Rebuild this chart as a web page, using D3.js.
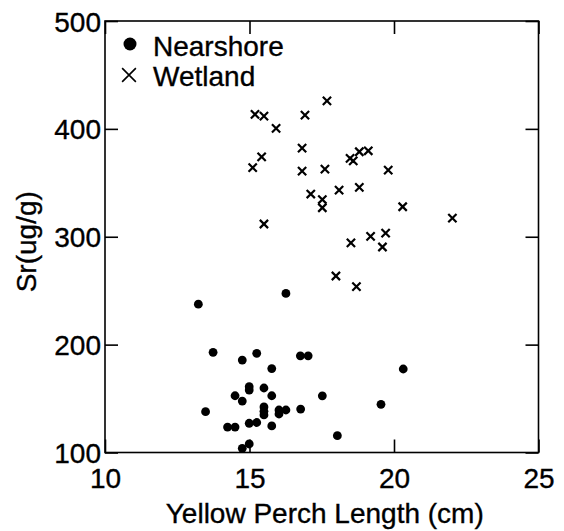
<html>
<head>
<script src="https://d3js.org/d3.v7.min.js"></script>
<style>
  body { margin: 0; background: #fff; }
  svg text { font-family: "Liberation Sans", Arial, sans-serif; fill: #000; stroke: #000; stroke-width: 0.35px; }
  .axis .domain { stroke: none; }
  .axis line { stroke: #000; stroke-width: 1.6px; }
</style>
</head>
<body>
<svg id="chart" width="564" height="531"></svg>
<script>
// values
const nearshoreLength = [13.23, 16.26, 13.74, 14.75, 15.25, 15.77, 16.76, 17.03, 14.99, 14.99, 15.5,
  14.5, 14.75, 15.77, 17.52, 13.48, 15.5, 15.5, 15.5, 16.02, 16.02, 16.26, 16.77, 14.24, 14.5,
  14.99, 15.25, 15.77, 14.75, 14.99, 19.55, 20.32, 18.04];
const nearshoreSr = [237.5, 247.5, 192.9, 185.7, 191.9, 177.8, 189.6, 189.6, 161, 157.9, 159.8,
  152.6, 147.7, 152.6, 152.5, 137.8, 142.2, 138.2, 134.8, 139.4, 135.7, 139.4, 140.3, 123.6, 123.6,
  127.1, 127.8, 124.6, 103.9, 107.9, 144.7, 177.4, 115.6];

const wetlandLength = [15.19, 15.5, 15.92, 16.92, 17.68, 16.82, 15.42, 15.11, 16.82, 17.61, 18.48,
  18.59, 18.8, 19.11, 19.8, 17.12, 17.52, 17.52, 18.1, 18.8, 20.3, 22.02, 18.51, 19.19, 19.71,
  19.6, 17.99, 18.7, 15.5];
const wetlandSr = [413.4, 411.9, 400.5, 412.8, 426, 382.2, 374.1, 364, 360.9, 362.7, 372.7,
  370.4, 378.8, 379.7, 361.8, 339.6, 334.5, 326.9, 343.3, 345.8, 327.8, 317.3, 294.4, 300.4, 303.4,
  290.5, 263.6, 253.7, 311.8];

const xTicks = [10, 15, 20, 25];
const yTicks = [100, 200, 300, 400, 500];
const seriesNames = ["Nearshore", "Wetland"];

const svg = d3.select("#chart");
const plotLeft = 105, plotRight = 538.5, plotTop = 21, plotBottom = 452.5;

const x = d3.scaleLinear().domain([10, 25]).range([plotLeft, plotRight]);
const y = d3.scaleLinear().domain([100, 500]).range([plotBottom, plotTop]);

// bottom + left axes with labels, ticks pointing inward
svg.append("g").attr("class", "axis")
  .attr("transform", `translate(0,${plotBottom})`)
  .call(d3.axisBottom(x).tickValues(xTicks).tickSize(-13).tickSizeOuter(0).tickPadding(15.5))
  .selectAll("text").style("font-size", "28px");

svg.append("g").attr("class", "axis")
  .attr("transform", `translate(${plotLeft},0)`)
  .call(d3.axisLeft(y).tickValues(yTicks).tickSize(-13).tickSizeOuter(0).tickPadding(4))
  .selectAll("text").style("font-size", "28px").attr("dy", "0.36em");

// top + right mirrored ticks
svg.append("g").attr("class", "axis")
  .attr("transform", `translate(0,${plotTop})`)
  .call(d3.axisTop(x).tickValues(xTicks).tickSize(-13).tickSizeOuter(0).tickFormat(""));

svg.append("g").attr("class", "axis")
  .attr("transform", `translate(${plotRight},0)`)
  .call(d3.axisRight(y).tickValues(yTicks).tickSize(-13).tickSizeOuter(0).tickFormat(""));

// frame
svg.append("rect")
  .attr("x", plotLeft).attr("y", plotTop)
  .attr("width", plotRight - plotLeft).attr("height", plotBottom - plotTop)
  .attr("fill", "none").attr("stroke", "#000").attr("stroke-width", 1.6);

// points
const nearshore = nearshoreLength.map((v, i) => ({ len: v, sr: nearshoreSr[i] }));
const wetland = wetlandLength.map((v, i) => ({ len: v, sr: wetlandSr[i] }));

svg.selectAll("circle.near").data(nearshore)
  .join("circle").attr("class", "near")
  .attr("cx", d => x(d.len))
  .attr("cy", d => y(d.sr))
  .attr("r", 4.4)
  .attr("fill", "#000");

const cross = d3.symbol().type(d3.symbolTimes).size(46);
svg.selectAll("path.wet").data(wetland)
  .join("path").attr("class", "wet")
  .attr("d", cross)
  .attr("transform", d => `translate(${x(d.len)},${y(d.sr)})`)
  .attr("fill", "none")
  .attr("stroke", "#000")
  .attr("stroke-width", 2.2);

// legend
const legend = svg.append("g");
legend.append("circle").attr("cx", 130).attr("cy", 44).attr("r", 6.5).attr("fill", "#000");
legend.append("path")
  .attr("d", d3.symbol().type(d3.symbolTimes).size(125)())
  .attr("transform", "translate(129,75)")
  .attr("fill", "none").attr("stroke", "#000").attr("stroke-width", 1.6);
legend.selectAll("text").data(seriesNames)
  .join("text")
  .attr("x", 153)
  .attr("y", (d, i) => 56 + i * 30)
  .style("font-size", "28px")
  .text(d => d);

// axis titles
svg.append("text")
  .attr("x", (plotLeft + plotRight) / 2 + 3)
  .attr("y", 523)
  .attr("text-anchor", "middle")
  .style("font-size", "28px")
  .text("Yellow Perch Length (cm)");

svg.append("text")
  .attr("transform", `translate(36,${(plotTop + plotBottom) / 2 + 5}) rotate(-90)`)
  .attr("text-anchor", "middle")
  .style("font-size", "28px")
  .text("Sr(ug/g)");
</script>
</body>
</html>
